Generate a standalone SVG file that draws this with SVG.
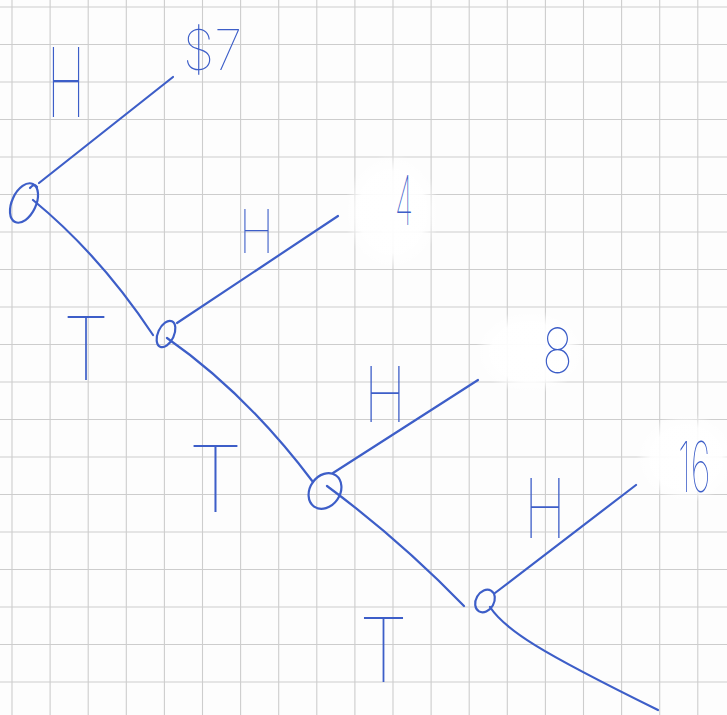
<svg xmlns="http://www.w3.org/2000/svg" width="727" height="715" viewBox="0 0 727 715">
<defs>
<style>
.grid line{stroke:#cdcdcd;stroke-width:1.1}
.ink{fill:none;stroke:#3d5ec8;stroke-width:2.2;stroke-linecap:round;stroke-linejoin:round}
.hw{font-family:Inter,"Liberation Sans",sans-serif;font-weight:100;fill:#3d5ec8}
.erase{fill:url(#fade)}
</style>
<radialGradient id="fade">
<stop offset="0" stop-color="#ffffff" stop-opacity="1"/>
<stop offset="0.7" stop-color="#ffffff" stop-opacity="0.9"/>
<stop offset="1" stop-color="#ffffff" stop-opacity="0"/>
</radialGradient>
</defs>
<rect width="727" height="715" fill="#fdfdfd"/>
<g class="grid">
<line x1="12" y1="0" x2="12" y2="715"/><line x1="50.1" y1="0" x2="50.1" y2="715"/><line x1="88.2" y1="0" x2="88.2" y2="715"/><line x1="126.3" y1="0" x2="126.3" y2="715"/><line x1="164.4" y1="0" x2="164.4" y2="715"/><line x1="202.5" y1="0" x2="202.5" y2="715"/><line x1="240.6" y1="0" x2="240.6" y2="715"/><line x1="278.7" y1="0" x2="278.7" y2="715"/><line x1="316.8" y1="0" x2="316.8" y2="715"/><line x1="354.9" y1="0" x2="354.9" y2="715"/><line x1="393" y1="0" x2="393" y2="715"/><line x1="431.1" y1="0" x2="431.1" y2="715"/><line x1="469.2" y1="0" x2="469.2" y2="715"/><line x1="507.3" y1="0" x2="507.3" y2="715"/><line x1="545.4" y1="0" x2="545.4" y2="715"/><line x1="583.5" y1="0" x2="583.5" y2="715"/><line x1="621.6" y1="0" x2="621.6" y2="715"/><line x1="659.7" y1="0" x2="659.7" y2="715"/><line x1="697.8" y1="0" x2="697.8" y2="715"/>
<line x1="0" y1="7" x2="727" y2="7"/><line x1="0" y1="44.5" x2="727" y2="44.5"/><line x1="0" y1="82" x2="727" y2="82"/><line x1="0" y1="119.5" x2="727" y2="119.5"/><line x1="0" y1="157" x2="727" y2="157"/><line x1="0" y1="194.5" x2="727" y2="194.5"/><line x1="0" y1="232" x2="727" y2="232"/><line x1="0" y1="269.5" x2="727" y2="269.5"/><line x1="0" y1="307" x2="727" y2="307"/><line x1="0" y1="344.5" x2="727" y2="344.5"/><line x1="0" y1="382" x2="727" y2="382"/><line x1="0" y1="419.5" x2="727" y2="419.5"/><line x1="0" y1="457" x2="727" y2="457"/><line x1="0" y1="494.5" x2="727" y2="494.5"/><line x1="0" y1="532" x2="727" y2="532"/><line x1="0" y1="569.5" x2="727" y2="569.5"/><line x1="0" y1="607" x2="727" y2="607"/><line x1="0" y1="644.5" x2="727" y2="644.5"/><line x1="0" y1="682" x2="727" y2="682"/>
</g>
<g id="erasures">
<ellipse class="erase" cx="392" cy="212" rx="48" ry="58"/>
<ellipse class="erase" cx="530" cy="352" rx="55" ry="42"/>
<ellipse class="erase" cx="686" cy="458" rx="50" ry="45"/>
</g>
<g id="connectors" class="ink">
<path d="M39,183 L173,77"/>
<path d="M33,200 Q100,255 153,335"/>
<path d="M177,323 L338,216"/>
<path d="M167,338 C220,375 270,425 313,482"/>
<path d="M333,473 L478,380"/>
<path d="M327,486 Q400,540 464,606"/>
<path d="M495,593 L636,485"/>
<path d="M490,607 C505,630 540,652 658,710"/>
</g>
<g id="node-a" class="ink"><ellipse cx="24" cy="203" rx="12" ry="21" transform="rotate(25 24 203)"/><path d="M30,188 q4,-5 7,-1"/></g>
<g id="node-b" class="ink"><ellipse cx="166" cy="334" rx="8" ry="14" transform="rotate(25 166 334)"/></g>
<g id="node-c" class="ink"><ellipse cx="325" cy="491" rx="15" ry="19" transform="rotate(35 325 491)"/></g>
<g id="node-d" class="ink"><ellipse cx="485" cy="601" rx="9" ry="12" transform="rotate(30 485 601)"/></g>
<g id="labels">
<text class="hw" x="47" y="117" font-size="96" textLength="38" lengthAdjust="spacingAndGlyphs">H</text>
<text class="hw" x="183" y="70" font-size="56" textLength="59" lengthAdjust="spacingAndGlyphs">$7</text>
<text class="hw" x="239" y="253" font-size="60" textLength="35" lengthAdjust="spacingAndGlyphs">H</text>
<text class="hw" x="395" y="225" font-size="68" textLength="18" lengthAdjust="spacingAndGlyphs">4</text>
<text class="hw" x="63" y="380" font-size="88" textLength="46" lengthAdjust="spacingAndGlyphs">T</text>
<text class="hw" x="364" y="422" font-size="77" textLength="42" lengthAdjust="spacingAndGlyphs">H</text>
<text class="hw" x="542" y="373" font-size="62" textLength="31" lengthAdjust="spacingAndGlyphs">8</text>
<text class="hw" x="188" y="512" font-size="92" textLength="55" lengthAdjust="spacingAndGlyphs">T</text>
<text class="hw" x="524" y="538" font-size="82" textLength="42" lengthAdjust="spacingAndGlyphs">H</text>
<text class="hw" transform="translate(678 492) scale(0.5 1)" x="0" y="0" font-size="70">16</text>
<text class="hw" x="359" y="682" font-size="89" textLength="49" lengthAdjust="spacingAndGlyphs">T</text>
</g>
</svg>
